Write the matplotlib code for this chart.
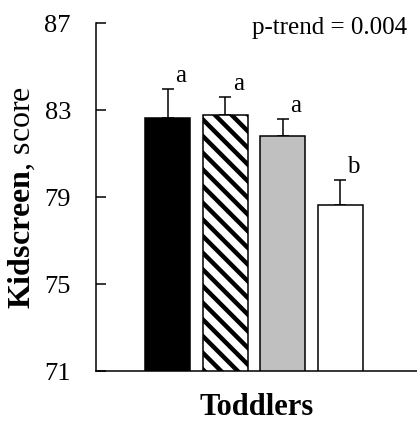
import matplotlib
matplotlib.use("Agg")
import matplotlib.pyplot as plt

# Kidscreen score by group, toddlers
groups = ["G1", "G2", "G3", "G4"]
means = [82.65, 82.75, 81.80, 78.65]
errors = [1.30, 0.83, 0.77, 1.12]
letters = ["a", "a", "a", "b"]
p_trend = "p-trend = 0.004"
yticks = [71, 75, 79, 83, 87]

plt.rcParams["font.family"] = "Liberation Serif"
plt.rcParams["mathtext.fontset"] = "custom"
plt.rcParams["mathtext.rm"] = "Liberation Serif"
plt.rcParams["mathtext.bf"] = "Liberation Serif:bold"
plt.rcParams["hatch.linewidth"] = 3.2

fig = plt.figure(figsize=(4.17, 4.26), dpi=100)
ax = fig.add_axes([0.230, 0.129, 0.77, 0.817])

colors = ["black", "white", "#c0c0c0", "white"]
hatches = [None, "\\\\", None, None]
x = range(len(groups))
bars = ax.bar(x, means, width=0.78, color=colors, edgecolor="black",
              linewidth=1.1, zorder=2)
for bar, h in zip(bars, hatches):
    if h:
        bar.set_hatch(h)

ax.errorbar(x, means, yerr=[[0] * len(errors), errors], fmt="none",
            ecolor="black", elinewidth=1.1, capsize=4, capthick=1.1, zorder=1)

for xi, m, e, lab in zip(x, means, errors, letters):
    ax.annotate(lab, (xi, m + e), xytext=(13, 13), textcoords="offset pixels",
                ha="center", va="center", fontsize=18)

ax.text(0.97, 0.985, p_trend, transform=ax.transAxes, ha="right", va="center",
        fontsize=18)

ax.set_ylim(71, 87)
ax.set_xlim(-1.25, 4.33)
ax.set_yticks(yticks)
ax.tick_params(axis="y", direction="in", length=7, width=1.1, pad=18, labelsize=19)
ax.set_xticks([])
for s in ["top", "right"]:
    ax.spines[s].set_visible(False)
ax.spines["left"].set_linewidth(1.1)
ax.spines["bottom"].set_linewidth(1.1)

ax.set_ylabel(r"$\mathbf{Kidscreen}$, score", fontsize=23, labelpad=5)
ax.set_xlabel("Toddlers", fontsize=22, fontweight="bold", labelpad=16)

fig.savefig("out.png", dpi=100)
